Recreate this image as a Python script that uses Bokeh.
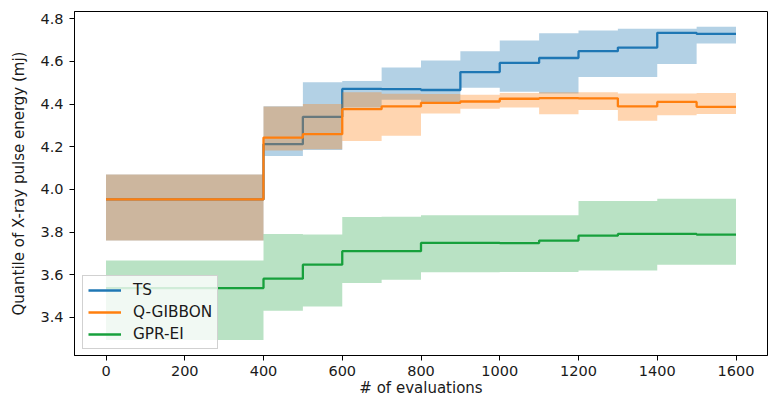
from bokeh.plotting import figure
from bokeh.models import FixedTicker, PrintfTickFormatter, Range1d, Legend, LegendItem
from bokeh.embed import file_html
from bokeh.resources import INLINE

# segment start points (# of evaluations); last segment ends at x_end
x_starts = [0, 400, 500, 600, 700, 800, 900, 1000, 1100, 1200, 1300, 1400, 1500]
x_end = 1600

ts_mean = [3.953, 4.212, 4.340, 4.471, 4.470, 4.466, 4.550, 4.593, 4.616, 4.648, 4.665, 4.734, 4.729]
ts_upper = [4.070, 4.390, 4.502, 4.508, 4.572, 4.604, 4.648, 4.698, 4.732, 4.745, 4.753, 4.753, 4.762]
ts_lower = [3.760, 4.157, 4.185, 4.384, 4.420, 4.410, 4.477, 4.458, 4.450, 4.527, 4.527, 4.588, 4.684]

qg_mean = [3.953, 4.243, 4.259, 4.376, 4.389, 4.406, 4.412, 4.425, 4.428, 4.427, 4.389, 4.410, 4.387]
qg_upper = [4.070, 4.388, 4.400, 4.455, 4.448, 4.447, 4.444, 4.452, 4.455, 4.455, 4.450, 4.450, 4.452]
qg_lower = [3.760, 4.182, 4.188, 4.227, 4.251, 4.356, 4.378, 4.384, 4.352, 4.372, 4.322, 4.348, 4.353]

gp_mean = [3.537, 3.581, 3.647, 3.710, 3.710, 3.749, 3.749, 3.748, 3.760, 3.783, 3.791, 3.791, 3.788]
gp_upper = [3.667, 3.791, 3.788, 3.871, 3.872, 3.879, 3.879, 3.879, 3.879, 3.946, 3.946, 3.956, 3.956]
gp_lower = [3.294, 3.431, 3.451, 3.561, 3.576, 3.611, 3.611, 3.612, 3.613, 3.619, 3.619, 3.647, 3.647]

series_names = ["TS", "Q-GIBBON", "GPR-EI"]
x_ticks = [0, 200, 400, 600, 800, 1000, 1200, 1400, 1600]
y_ticks = [3.4, 3.6, 3.8, 4.0, 4.2, 4.4, 4.6, 4.8]

colors = ["#1f77b4", "#ff7f0e", "#17a03c"]
FONT = "DejaVu Sans"

p = figure(width=778, height=401, output_backend="svg", toolbar_location=None,
           x_range=Range1d(-80, 1680), y_range=Range1d(3.221, 4.834),
           min_border_left=74, min_border_right=11, min_border_top=11, min_border_bottom=46)
p.background_fill_color = "white"
p.border_fill_color = "white"
p.outline_line_color = "black"
p.outline_line_width = 1
p.xgrid.visible = False
p.ygrid.visible = False

xs = x_starts + [x_end]
def ext(v):
    return list(v) + [v[-1]]

data = [(ts_mean, ts_upper, ts_lower), (qg_mean, qg_upper, qg_lower), (gp_mean, gp_upper, gp_lower)]
alphas = [0.34, 0.33, 0.30]
items = []
for (m, up, lo), c, a, name in zip(data, colors, alphas, series_names):
    p.varea_step(x=xs, y1=ext(lo), y2=ext(up), step_mode="after", fill_color=c, fill_alpha=a)
    r = p.step(x=xs, y=ext(m), mode="after", line_color=c, line_width=2.3)
    items.append(LegendItem(label=name, renderers=[r]))

legend = Legend(items=items, location=(8, 6))
legend.margin = 0
legend.padding = 5
legend.spacing = 4
legend.glyph_width = 33
legend.glyph_height = 16
legend.label_height = 16
legend.label_standoff = 12
legend.label_text_font = FONT
legend.label_text_font_size = "15.3px"
legend.label_text_color = "#1a1a1a"
legend.background_fill_color = "white"
legend.background_fill_alpha = 0.8
legend.border_line_color = "#cccccc"
legend.border_line_alpha = 0.9
p.add_layout(legend)

for ax in (p.xaxis, p.yaxis):
    ax.axis_line_color = "black"
    ax.major_tick_line_color = "black"
    ax.major_tick_out = 5
    ax.major_tick_in = 0
    ax.minor_tick_line_color = None
    ax.major_label_text_font = FONT
    ax.major_label_text_font_size = "14.5px"
    ax.major_label_text_color = "#1a1a1a"
    ax.axis_label_text_font = FONT
    ax.axis_label_text_font_size = "15px"
    ax.axis_label_text_font_style = "normal"
    ax.axis_label_text_color = "#1a1a1a"

p.xaxis.ticker = FixedTicker(ticks=x_ticks)
p.yaxis.ticker = FixedTicker(ticks=y_ticks)
p.yaxis.formatter = PrintfTickFormatter(format="%.1f")
p.xaxis.major_label_standoff = 5
p.yaxis.major_label_standoff = 6
p.xaxis.axis_label = "# of evaluations"
p.yaxis.axis_label = "Quantile of X-ray pulse energy (mj)"
p.xaxis.axis_label_standoff = 0
p.yaxis.axis_label_standoff = 9

open("out.html", "w").write(file_html(p, INLINE))
